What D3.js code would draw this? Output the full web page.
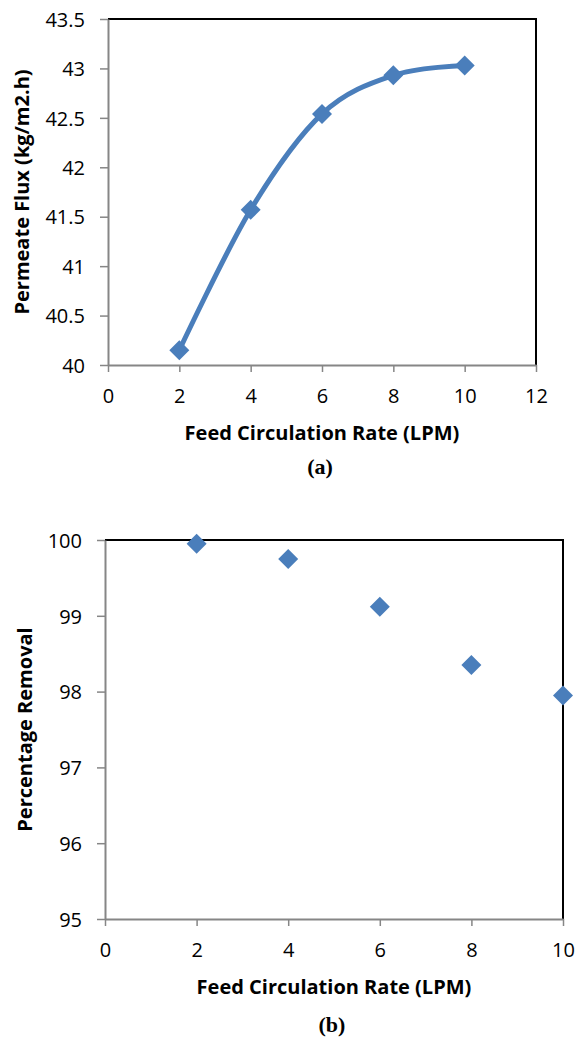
<!DOCTYPE html>
<html>
<head>
<meta charset="utf-8">
<script src="https://cdn.jsdelivr.net/npm/d3@7"></script>
<style>
  html, body { margin: 0; padding: 0; background: #fff; }
  svg { display: block; }
  .tick-label { font-family: "Open Sans", sans-serif; font-size: 20px; fill: #000; }
  .axis-title { font-family: "Open Sans", sans-serif; font-size: 20px; font-weight: bold; fill: #000; }
  .caption { font-family: "Liberation Serif", "Times New Roman", serif; font-size: 22px; font-weight: bold; fill: #000; }
</style>
</head>
<body>
<svg id="fig" width="577" height="1045"></svg>
<script>
// Feed circulation rate (LPM) used in both experiments
const rateLPM = [2, 4, 6, 8, 10];

// (a) permeate flux, kg/m2.h
const permeateFlux = [40.15, 41.57, 42.54, 42.93, 43.03];
const fluxTicks = [40, 40.5, 41, 41.5, 42, 42.5, 43, 43.5];
const rateTicksA = [0, 2, 4, 6, 8, 10, 12];

// (b) percentage removal
const percentRemoval = [99.95, 99.75, 99.12, 98.35, 97.95];
const removalTicks = [95, 96, 97, 98, 99, 100];
const rateTicksB = [0, 2, 4, 6, 8, 10];

const svg = d3.select("#fig");
const BLUE = "#4a7ebb";
const AXIS_GREY = "#868686";

function drawPanel(opt) {
  const { left, right, top, bottom } = opt.box;
  const x = d3.scaleLinear().domain(opt.xDomain).range([left, right]);
  const y = d3.scaleLinear().domain(opt.yDomain).range([bottom, top]);
  const g = svg.append("g");

  // frame: black top and right edges
  g.append("path")
    .attr("d", `M${left},${top}H${right}V${bottom}`)
    .attr("fill", "none").attr("stroke", "#000").attr("stroke-width", 2);

  // y axis
  const yAxis = g.append("g").attr("transform", `translate(${left},0)`)
    .call(d3.axisLeft(y).tickValues(opt.yTicks).tickSize(8).tickSizeOuter(0)
      .tickFormat(d => String(d)));
  yAxis.select(".domain").attr("stroke", AXIS_GREY).attr("stroke-width", 2);
  yAxis.selectAll(".tick line").attr("stroke", AXIS_GREY).attr("stroke-width", 1.5);
  yAxis.selectAll(".tick text").attr("class", "tick-label")
    .attr("x", -23).attr("dy", "0.36em").attr("font-size", null).attr("font-family", null);

  // x axis
  const xAxis = g.append("g").attr("transform", `translate(0,${bottom})`)
    .call(d3.axisBottom(x).tickValues(opt.xTicks).tickSize(7).tickSizeOuter(0)
      .tickFormat(d => String(d)));
  xAxis.select(".domain").attr("stroke", AXIS_GREY).attr("stroke-width", 2);
  xAxis.selectAll(".tick line").attr("stroke", AXIS_GREY).attr("stroke-width", 1.5);
  xAxis.selectAll(".tick text").attr("class", "tick-label")
    .attr("y", 38).attr("dy", 0).attr("font-size", null).attr("font-family", null);
  svg.selectAll(".domain").raise();

  // axis titles
  g.append("text").attr("class", "axis-title")
    .attr("x", (left + right) / 2).attr("y", bottom + opt.xTitleOffset)
    .attr("text-anchor", "middle").text(opt.xTitle);
  g.append("text").attr("class", "axis-title")
    .attr("transform", `translate(${opt.yTitleX},${(top + bottom) / 2}) rotate(-90)`)
    .attr("text-anchor", "middle").text(opt.yTitle);

  // caption
  g.append("text").attr("class", "caption")
    .attr("x", (left + right) / 2 - 2).attr("y", opt.captionY)
    .attr("text-anchor", "middle").text(opt.caption);

  const pts = opt.xs.map((v, i) => [x(v), y(opt.ys[i])]);

  if (opt.smoothLine) {
    g.append("path")
      .attr("d", d3.line().curve(d3.curveCardinal.tension(0))(pts))
      .attr("fill", "none").attr("stroke", BLUE).attr("stroke-width", 5)
      .attr("stroke-linecap", "round").attr("stroke-linejoin", "round");
  }

  // diamond markers
  const diamond = d3.symbol().type(d3.symbolSquare).size(200);
  g.selectAll("path.marker").data(pts).join("path")
    .attr("class", "marker")
    .attr("d", diamond)
    .attr("transform", d => `translate(${d[0]},${d[1]}) rotate(45)`)
    .attr("fill", BLUE);
}

drawPanel({
  box: { left: 108, right: 536, top: 19, bottom: 365 },
  xDomain: [0, 12], yDomain: [40, 43.5],
  xTicks: rateTicksA, yTicks: fluxTicks,
  xs: rateLPM, ys: permeateFlux,
  smoothLine: true,
  xTitle: "Feed Circulation Rate (LPM)", xTitleOffset: 75,
  yTitle: "Permeate Flux (kg/m2.h)", yTitleX: 29,
  caption: "(a)", captionY: 474
});

drawPanel({
  box: { left: 105, right: 563, top: 540, bottom: 919 },
  xDomain: [0, 10], yDomain: [95, 100],
  xTicks: rateTicksB, yTicks: removalTicks,
  xs: rateLPM, ys: percentRemoval,
  smoothLine: false,
  xTitle: "Feed Circulation Rate (LPM)", xTitleOffset: 75,
  yTitle: "Percentage Removal", yTitleX: 32,
  caption: "(b)", captionY: 1032
});
</script>
</body>
</html>
